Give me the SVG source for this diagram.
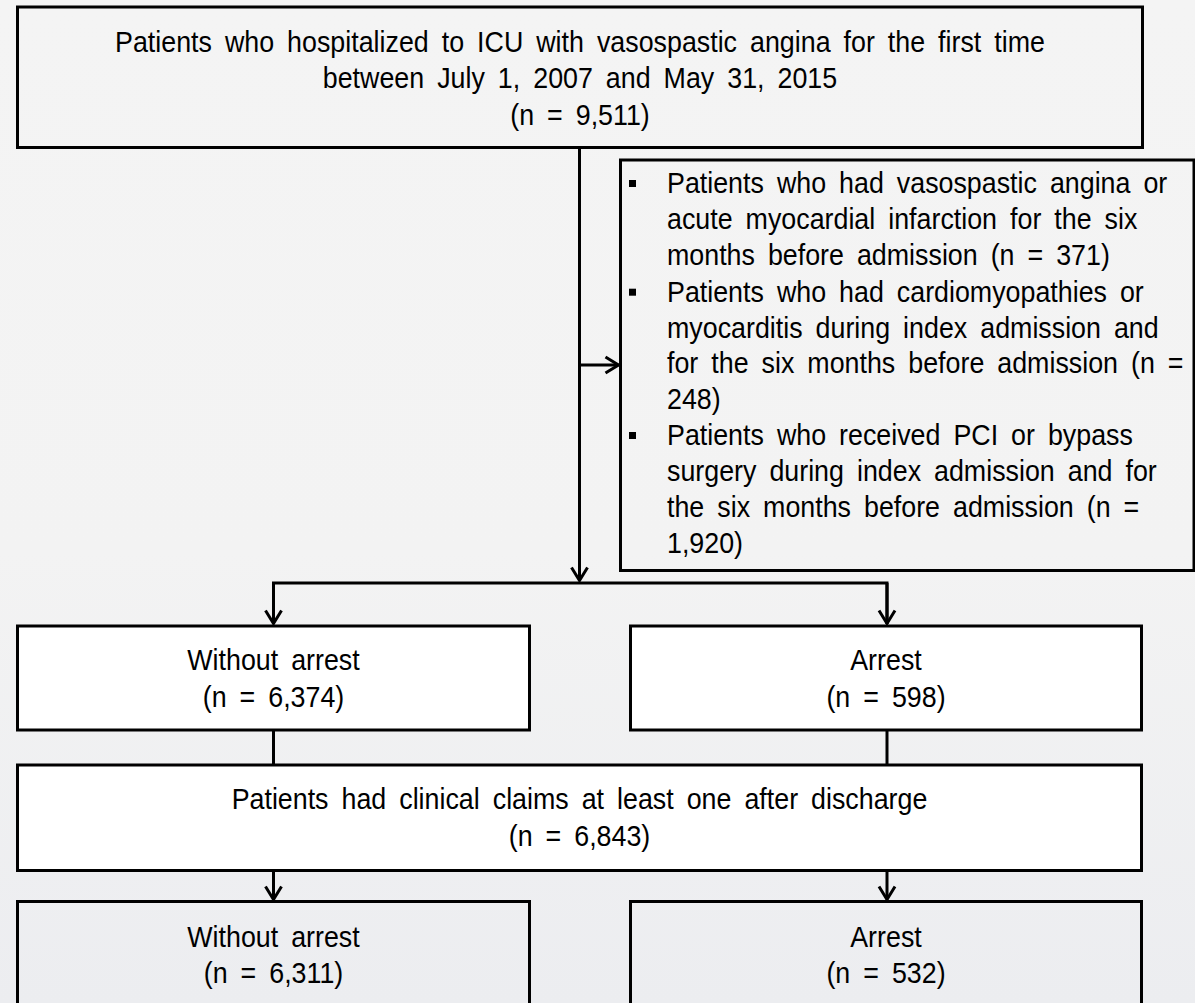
<svg xmlns="http://www.w3.org/2000/svg" width="1195" height="1003" viewBox="0 0 1195 1003">
<style>
.box{fill:none;stroke:#000;stroke-width:3}
.wbox{fill:#fff;stroke:#000;stroke-width:3}
.t{font-family:"Liberation Sans",Arial,sans-serif;font-size:29px;fill:#000;word-spacing:6px}
.c{text-anchor:middle}
.ln{fill:none;stroke:#000;stroke-width:3}
.arr{fill:none;stroke:#000;stroke-width:3;marker-end:url(#ah)}
</style>
<defs>
<linearGradient id="bg" x1="0" y1="0" x2="0" y2="1">
<stop offset="0" stop-color="#f4f4f4"/>
<stop offset="0.55" stop-color="#f3f3f3"/>
<stop offset="1" stop-color="#ecedf0"/>
</linearGradient>
<marker id="ah" markerUnits="userSpaceOnUse" viewBox="-16 -10 18 20" refX="0" refY="0" markerWidth="18" markerHeight="20" orient="auto">
<path d="M-13,-8 L0,0 L-13,8" fill="none" stroke="#000" stroke-width="3"/>
</marker>
</defs>
<rect x="0" y="0" width="1195" height="1003" fill="url(#bg)"/>

<g id="connectors">
<path class="arr" d="M579.5,147.5 V580.5"/>
<path class="arr" d="M579.5,365 H618.5"/>
<path class="ln" d="M273.5,624 V583 H887 V624"/>
<path class="arr" d="M273.5,583 V623.5"/>
<path class="arr" d="M887,583 V623.5"/>
<path class="ln" d="M273.5,730 V765"/>
<path class="ln" d="M887,730 V765"/>
<path class="arr" d="M273.5,870.5 V899.5"/>
<path class="arr" d="M887,870.5 V899.5"/>
</g>

<g id="n-start">
<rect class="box" x="17.5" y="7" width="1125" height="140.5"/>
<g transform="scale(0.925 1)">
<text class="t c" x="627.03" y="51.7">Patients who hospitalized to ICU with vasospastic angina for the first time</text>
<text class="t c" x="627.03" y="88.3">between July 1, 2007 and May 31, 2015</text>
<text class="t c" x="627.03" y="125">(n = 9,511)</text>
</g>
</g>

<g id="n-exclusion">
<rect class="box" x="620.5" y="160" width="573.5" height="410.5"/>
<rect x="629" y="180" width="7" height="7" fill="#000"/>
<rect x="629" y="288.7" width="7" height="7" fill="#000"/>
<rect x="629" y="432" width="7" height="7" fill="#000"/>
<g transform="scale(0.925 1)">
<text class="t" x="721.08" y="193">Patients who had vasospastic angina or</text>
<text class="t" x="721.08" y="229">acute myocardial infarction for the six</text>
<text class="t" x="721.08" y="265">months before admission (n = 371)</text>
<text class="t" x="721.08" y="301.7">Patients who had cardiomyopathies or</text>
<text class="t" x="721.08" y="337.6">myocarditis during index admission and</text>
<text class="t" x="721.08" y="373.5">for the six months before admission (n =</text>
<text class="t" x="721.08" y="409.4">248)</text>
<text class="t" x="721.08" y="445.3">Patients who received PCI or bypass</text>
<text class="t" x="721.08" y="481.2">surgery during index admission and for</text>
<text class="t" x="721.08" y="517.1">the six months before admission  (n =</text>
<text class="t" x="721.08" y="553">1,920)</text>
</g>
</g>

<g id="n-without1">
<rect class="wbox" x="17.5" y="626" width="512" height="104"/>
<g transform="scale(0.925 1)">
<text class="t c" x="295.68" y="670">Without arrest</text>
<text class="t c" x="295.68" y="706.7">(n = 6,374)</text>
</g>
</g>

<g id="n-arrest1">
<rect class="wbox" x="630.5" y="626" width="511" height="104"/>
<g transform="scale(0.925 1)">
<text class="t c" x="957.84" y="670">Arrest</text>
<text class="t c" x="957.84" y="706.7">(n = 598)</text>
</g>
</g>

<g id="n-claims">
<rect class="wbox" x="17.5" y="765" width="1124" height="105.5"/>
<g transform="scale(0.925 1)">
<text class="t c" x="626.49" y="809.3">Patients had clinical claims at least one after discharge</text>
<text class="t c" x="626.49" y="846">(n = 6,843)</text>
</g>
</g>

<g id="n-without2">
<rect class="box" x="17.5" y="901.5" width="512" height="110"/>
<g transform="scale(0.925 1)">
<text class="t c" x="295.68" y="946.7">Without arrest</text>
<text class="t c" x="295.68" y="983.3">(n = 6,311)</text>
</g>
</g>

<g id="n-arrest2">
<rect class="box" x="630.5" y="901.5" width="511" height="110"/>
<g transform="scale(0.925 1)">
<text class="t c" x="957.84" y="946.7">Arrest</text>
<text class="t c" x="957.84" y="983.3">(n = 532)</text>
</g>
</g>
</svg>
